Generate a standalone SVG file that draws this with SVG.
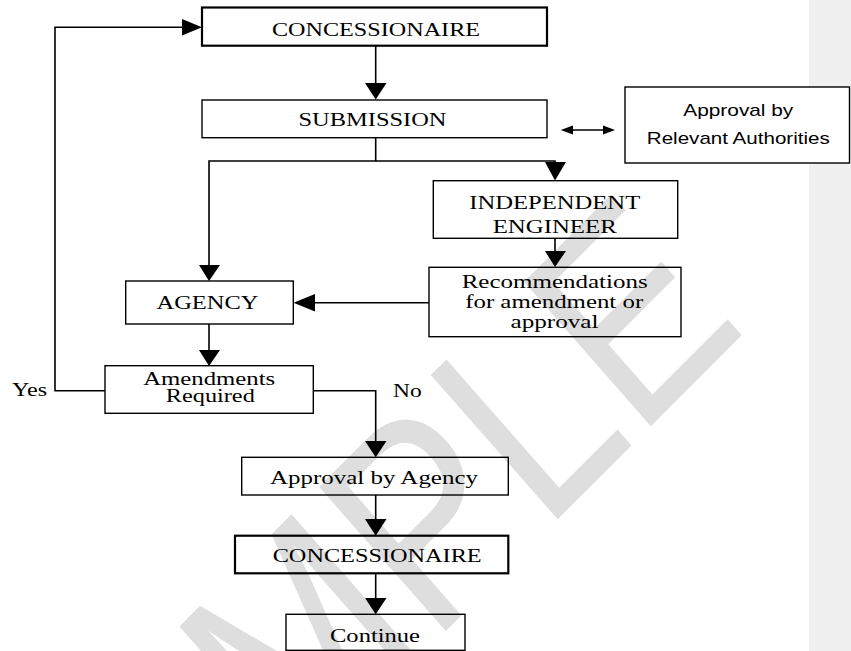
<svg xmlns="http://www.w3.org/2000/svg" width="851" height="651" viewBox="0 0 851 651">
<style>
.box{fill:none;stroke:#000;stroke-width:1.4}
.thick{stroke-width:2.2}
.t{font-family:"Liberation Serif","Times New Roman",serif;font-size:19.5px;fill:#000;text-anchor:middle}
.s{font-size:18px}
.ta{font-family:"Liberation Sans",Arial,sans-serif;font-size:17px;fill:#000;text-anchor:middle}
.ln{fill:none;stroke:#000;stroke-width:1.6}
.ah{fill:#000;stroke:none}
.wm{font-family:"Liberation Sans",Arial,sans-serif;font-size:237px;fill:#dedede}
</style>
<rect x="0" y="0" width="851" height="651" fill="#fff"/>
<rect x="809" y="0" width="42" height="651" fill="#f0f0f0"/>
<g id="watermark">
<text class="wm" transform="matrix(0.7071 -0.7071 0.778 0.885 69 1008)">SAMPLE</text>
</g>
<g id="connectors">
<line class="ln" x1="375.7" y1="46" x2="375.7" y2="84"/>
<polygon class="ah" points="365,83 386.5,83 375.7,99.5"/>
<path class="ln" d="M375.7,138 V161 H209 V266"/>
<polygon class="ah" points="199,265 220,265 209,281"/>
<path class="ln" d="M375.7,161 H555 V163"/>
<polygon class="ah" points="545,162 566,162 555,180.5"/>
<line class="ln" x1="555" y1="238" x2="555" y2="252"/>
<polygon class="ah" points="545,251 566,251 555,267"/>
<line class="ln" x1="429" y1="302.7" x2="314" y2="302.7"/>
<polygon class="ah" points="315,294 315,311.5 293.5,302.7"/>
<line class="ln" x1="209" y1="324" x2="209" y2="351"/>
<polygon class="ah" points="199,350 220,350 209,366"/>
<path class="ln" d="M105,390.7 H55 V27.3 H183"/>
<polygon class="ah" points="182,19 182,35.5 202,27.3"/>
<path class="ln" d="M313,390.7 H375.7 V442"/>
<polygon class="ah" points="365,441 386.5,441 375.7,457.3"/>
<line class="ln" x1="375.7" y1="495" x2="375.7" y2="520"/>
<polygon class="ah" points="365,519 386.5,519 375.7,535.7"/>
<line class="ln" x1="375.7" y1="573.3" x2="375.7" y2="599"/>
<polygon class="ah" points="365,598 386.5,598 375.7,614.3"/>
<line class="ln" x1="570" y1="130" x2="606" y2="130"/>
<polygon class="ah" points="560.7,130 573,125.5 573,134.5"/>
<polygon class="ah" points="615,130 603,125.5 603,134.5"/>
</g>
<g id="n-concessionaire-1">
<rect class="box thick" x="202" y="7.5" width="345" height="38.2"/>
<text class="t" x="376" y="36" textLength="208" lengthAdjust="spacingAndGlyphs">CONCESSIONAIRE</text>
</g>
<g id="n-submission">
<rect class="box" x="202" y="100" width="345" height="37.7"/>
<text class="t" x="372.5" y="126" textLength="148" lengthAdjust="spacingAndGlyphs">SUBMISSION</text>
</g>
<g id="n-authorities">
<rect x="625" y="87" width="224.5" height="76" fill="#fff" stroke="#000" stroke-width="1.4"/>
<text class="ta" x="738.3" y="116" textLength="110" lengthAdjust="spacingAndGlyphs">Approval by</text>
<text class="ta" x="738.3" y="144" textLength="183" lengthAdjust="spacingAndGlyphs">Relevant Authorities</text>
</g>
<g id="n-independent-engineer">
<rect class="box" x="433.3" y="180.7" width="244.4" height="57.6"/>
<text class="t" x="554.7" y="209" textLength="171" lengthAdjust="spacingAndGlyphs">INDEPENDENT</text>
<text class="t" x="554.7" y="232.5" textLength="124" lengthAdjust="spacingAndGlyphs">ENGINEER</text>
</g>
<g id="n-recommendations">
<rect class="box" x="429" y="267.3" width="252" height="69.4"/>
<text class="t" x="554.7" y="288" textLength="186" lengthAdjust="spacingAndGlyphs">Recommendations</text>
<text class="t" x="554.2" y="308.3" textLength="178" lengthAdjust="spacingAndGlyphs">for amendment or</text>
<text class="t" x="554.5" y="328.3" textLength="88" lengthAdjust="spacingAndGlyphs">approval</text>
</g>
<g id="n-agency">
<rect class="box" x="125.7" y="281" width="167.6" height="43"/>
<text class="t" x="207.5" y="309.3" textLength="102" lengthAdjust="spacingAndGlyphs">AGENCY</text>
</g>
<g id="n-amendments">
<rect class="box" x="105" y="365.7" width="208.3" height="47.6"/>
<text class="t s" x="209.2" y="385" textLength="132" lengthAdjust="spacingAndGlyphs">Amendments</text>
<text class="t s" x="210.3" y="402" textLength="89" lengthAdjust="spacingAndGlyphs">Required</text>
</g>
<g id="n-approval-agency">
<rect class="box" x="241.7" y="457.3" width="266.6" height="37.7"/>
<text class="t" x="374" y="484" textLength="208" lengthAdjust="spacingAndGlyphs">Approval by Agency</text>
</g>
<g id="n-concessionaire-2">
<rect class="box thick" x="235" y="535.7" width="273.3" height="37.6"/>
<text class="t" x="377.2" y="562.3" textLength="209" lengthAdjust="spacingAndGlyphs">CONCESSIONAIRE</text>
</g>
<g id="n-continue">
<rect class="box" x="286" y="614.3" width="179" height="36"/>
<text class="t" x="375" y="641.7" textLength="90" lengthAdjust="spacingAndGlyphs">Continue</text>
</g>
<g id="labels">
<text class="t" x="29.5" y="395.5" textLength="35" lengthAdjust="spacingAndGlyphs">Yes</text>
<text class="t" x="407.3" y="396.5" textLength="28.7" lengthAdjust="spacingAndGlyphs">No</text>
</g>
</svg>
